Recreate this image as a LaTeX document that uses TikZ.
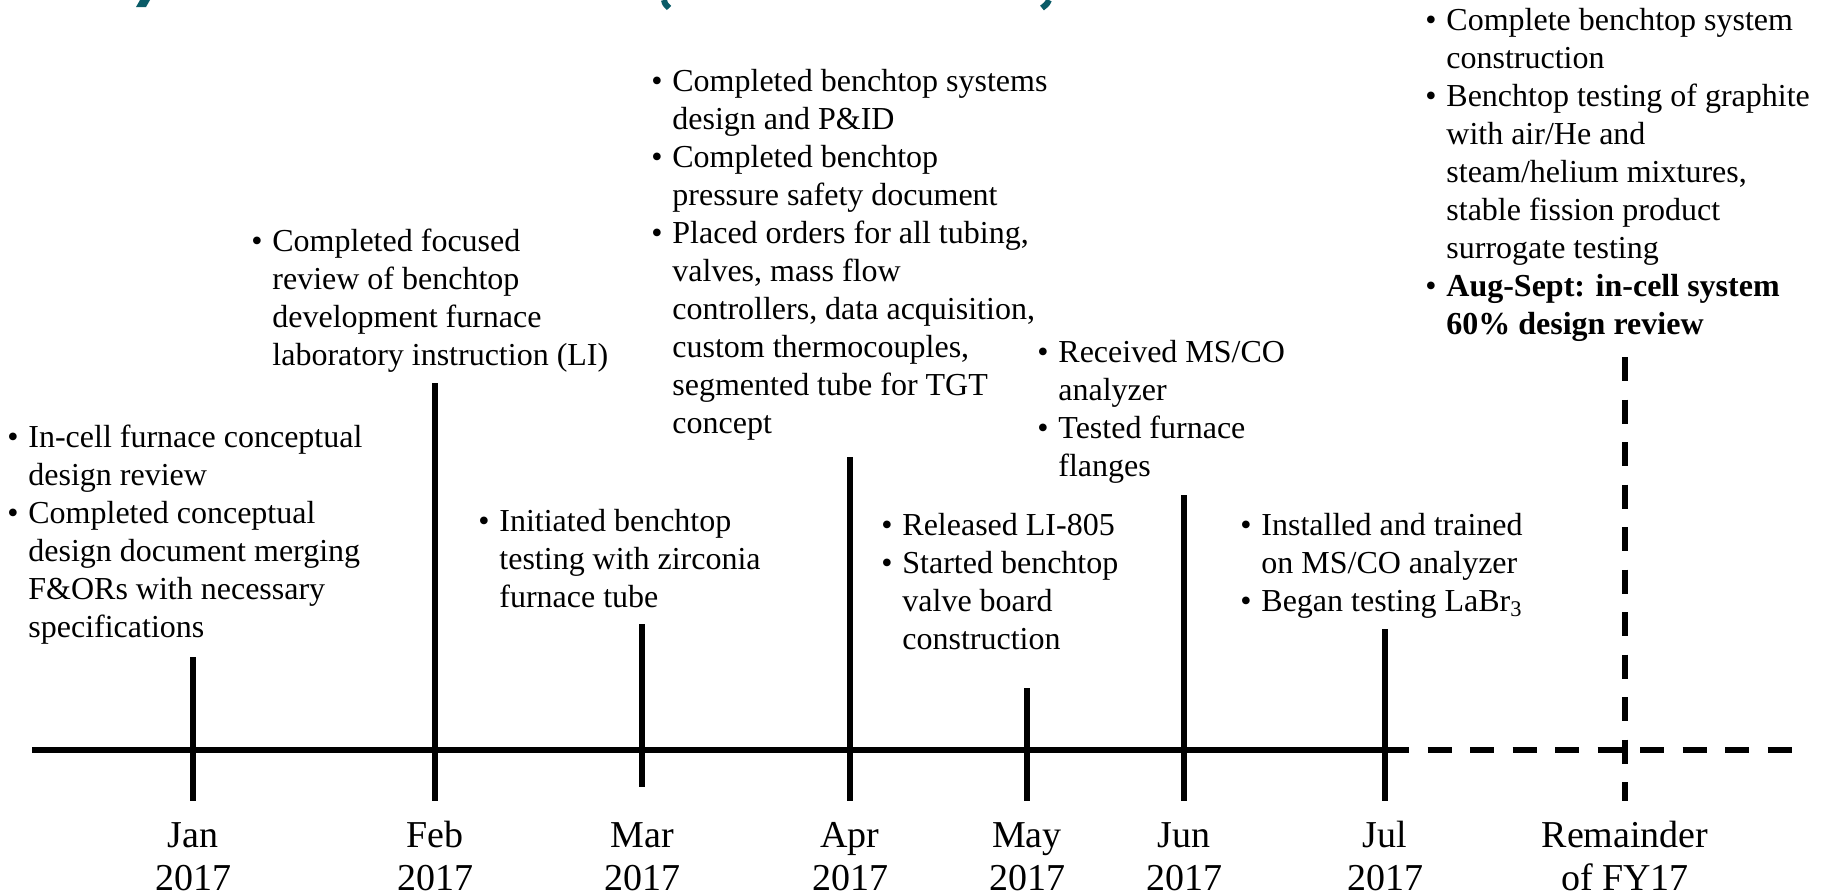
\documentclass[tikz,border=0pt]{standalone}
\usepackage{fontspec}
\setmainfont{Liberation Serif}
\definecolor{titleteal}{RGB}{10,92,104}
\newcommand{\bulletwidth}{10.5pt}
\newcommand{\bitem}{\makebox[\bulletwidth][l]{\textbullet}}
\newcommand{\bcont}{\hspace*{\bulletwidth}}
\tikzstyle{axisline}=[line width=2.85pt]
\tikzstyle{monthtick}=[line width=2.8pt]
\tikzstyle{futureline}=[line width=2.85pt, dash pattern=on 12pt off 9.25pt]
% Multi-line nodes sit on the baseline of their last line.
\tikzstyle{notes}=[anchor=base west, align=left, inner sep=0, font=\fontsize{16}{19}\selectfont]
\tikzstyle{month}=[anchor=base, align=center, inner sep=0, font=\fontsize{19}{21.5}\selectfont]
\tikzstyle{timeline}=[x=0.5pt, y=-0.5pt,
                      % Pixel grid of the slide, y pointing down.
                      every node/.style={text depth=0pt}]
\begin{document}
\begin{tikzpicture}[timeline]
        \useasboundingbox (0, 0) rectangle (1823, 895);
        % Bits of the cut-off slide title.
        \fill[titleteal] (140, 0) -- (150, 0) -- (146, 7) -- (136, 7) -- cycle;
        \draw[titleteal, line width=3pt] (664, 0) .. controls (665, 4) .. (669, 8);
        \draw[titleteal, line width=3pt] (1049, 0) .. controls (1047, 4) .. (1042, 8);
        % Months on the axis.
        \coordinate (jan) at (193, 750);
        \coordinate (feb) at (435, 750);
        \coordinate (mar) at (642, 750);
        \coordinate (apr) at (850, 750);
        \coordinate (may) at (1027, 750);
        \coordinate (jun) at (1184, 750);
        \coordinate (jul) at (1385, 750);
        \coordinate (rem) at (1625, 750);
        \coordinate (start) at (32, 750);
        \coordinate (finish) at (1793, 750);
        \draw[axisline] (start) -- (jul);
        \draw[futureline] (jul) -- (finish);
        \draw[monthtick] (193, 657) -- (193, 801);
        \draw[monthtick] (435, 383) -- (435, 801);
        \draw[monthtick] (642, 624) -- (642, 787);
        \draw[monthtick] (850, 457) -- (850, 801);
        \draw[monthtick] (1027, 688) -- (1027, 801);
        \draw[monthtick] (1184, 495) -- (1184, 801);
        \draw[monthtick] (1385, 629) -- (1385, 801);
        \draw[futureline] (1625, 357) -- (1625, 801);
        \node[month] (janlbl) at (193, 890) {Jan\\2017};
        \node[month] (feblbl) at (435, 890) {Feb\\2017};
        \node[month] (marlbl) at (642, 890) {Mar\\2017};
        \node[month] (aprlbl) at (850, 890) {Apr\\2017};
        \node[month] (maylbl) at (1027, 890) {May\\2017};
        \node[month] (junlbl) at (1184, 890) {Jun\\2017};
        \node[month] (jullbl) at (1385, 890) {Jul\\2017};
        \node[month] (remlbl) at (1625, 890) {Remainder\\of FY17};
        % What was done each month.
        \node[notes] (jannotes) at (7, 637) {\bitem In-cell furnace conceptual\\
            \bcont design review\\
            \bitem Completed conceptual\\
            \bcont design document merging\\
            \bcont F\&ORs with necessary\\
            \bcont specifications};
        \node[notes] (febnotes) at (251, 365) {\bitem Completed focused\\
            \bcont review of benchtop\\
            \bcont development furnace\\
            \bcont laboratory instruction (LI)};
        \node[notes] (marnotes) at (478, 607) {\bitem Initiated benchtop\\
            \bcont testing with zirconia\\
            \bcont furnace tube};
        \node[notes] (aprnotes) at (651, 433) {\bitem Completed benchtop systems\\
            \bcont design and P\&ID\\
            \bitem Completed benchtop\\
            \bcont pressure safety document\\
            \bitem Placed orders for all tubing,\\
            \bcont valves, mass flow\\
            \bcont controllers, data acquisition,\\
            \bcont custom thermocouples,\\
            \bcont segmented tube for TGT\\
            \bcont concept};
        \node[notes] (maynotes) at (881, 649) {\bitem Released LI-805\\
            \bitem Started benchtop\\
            \bcont valve board\\
            \bcont construction};
        \node[notes] (junnotes) at (1037, 476) {\bitem Received MS/CO\\
            \bcont analyzer\\
            \bitem Tested furnace\\
            \bcont flanges};
        \node[notes] (julnotes) at (1240, 611) {\bitem Installed and trained\\
            \bcont on MS/CO analyzer\\
            \bitem Began testing LaBr\textsubscript{3}};
        \node[notes] (remnotes) at (1425, 334) {\bitem Complete benchtop system\\
            \bcont construction\\
            \bitem Benchtop testing of graphite\\
            \bcont with air/He and\\
            \bcont steam/helium mixtures,\\
            \bcont stable fission product\\
            \bcont surrogate testing\\
            \bitem\textbf{Aug-Sept: in-cell system}\\
            \bcont\textbf{60\% design review}};
    \end{tikzpicture}
\end{document}
